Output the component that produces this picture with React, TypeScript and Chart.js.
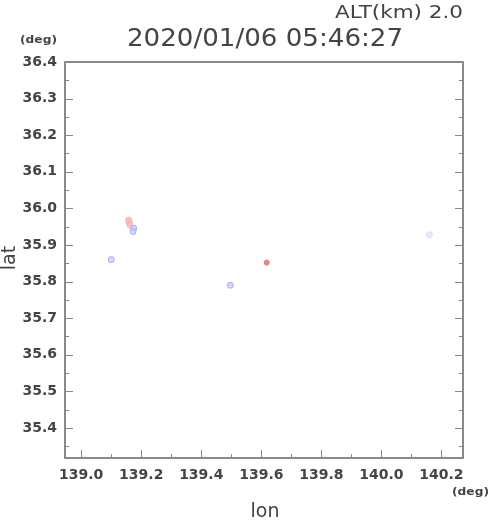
import React, { useEffect, useRef } from "react";
import { Chart, registerables } from "chart.js";

Chart.register(...registerables);

const titleText = "2020/01/06 05:46:27";
const altText = "ALT(km) 2.0";
const xTickValues = [139.0, 139.2, 139.4, 139.6, 139.8, 140.0, 140.2];
const yTickValues = [35.4, 35.5, 35.6, 35.7, 35.8, 35.9, 36.0, 36.1, 36.2, 36.3, 36.4];
const xMinorStep = 0.1;
const yMinorStep = 0.05;
const xRange = [138.946, 140.272];
const yRange = [35.318, 36.4];

const blueLon = [139.1, 139.175, 139.173, 139.497];
const blueLat = [35.86, 35.946, 35.937, 35.79];
const pinkLon = [139.158, 139.16, 139.162];
const pinkLat = [35.968, 35.962, 35.955];
const redLon = [139.618];
const redLat = [35.852];
const faintLon = [140.16];
const faintLat = [35.928];

const pts = (xs: number[], ys: number[]) => xs.map((x, i) => ({ x, y: ys[i] }));

const FONT = "'DejaVu Sans', sans-serif";
const TXT = "#444";

function fitText(ctx: any, text: string, left: number, y: number, width: number) {
  const w = ctx.measureText(text).width;
  ctx.save();
  ctx.translate(left, y);
  ctx.scale(width / w, 1);
  ctx.textAlign = "left";
  ctx.fillText(text, 0, 0);
  ctx.restore();
}

const framePlugin = {
  id: "frame",
  afterDraw(chart: any) {
    const { ctx, chartArea: a, scales } = chart;
    const xs = scales.x;
    const ys = scales.y;
    ctx.save();
    ctx.strokeStyle = "#666";
    ctx.lineWidth = 1.5;
    ctx.strokeRect(a.left, a.top, a.right - a.left, a.bottom - a.top);
    ctx.lineWidth = 1;
    ctx.strokeStyle = "#888";
    for (let v = Math.ceil(xRange[0] / xMinorStep) * xMinorStep; v <= xRange[1] + 1e-9; v += xMinorStep) {
      const p = Math.round(xs.getPixelForValue(v)) + 0.5;
      const major = xTickValues.some((t) => Math.abs(t - v) < 1e-6);
      const len = major ? 8 : 4;
      ctx.beginPath();
      ctx.moveTo(p, a.bottom);
      ctx.lineTo(p, a.bottom - len);
      ctx.stroke();
    }
    for (let v = Math.ceil(yRange[0] / yMinorStep) * yMinorStep; v <= yRange[1] + 1e-9; v += yMinorStep) {
      const p = Math.round(ys.getPixelForValue(v)) + 0.5;
      const major = yTickValues.some((t) => Math.abs(t - v) < 1e-6);
      const len = major ? 8 : 4;
      ctx.beginPath();
      ctx.moveTo(a.left, p);
      ctx.lineTo(a.left + len, p);
      ctx.moveTo(a.right, p);
      ctx.lineTo(a.right - len, p);
      ctx.stroke();
    }
    ctx.fillStyle = TXT;
    ctx.textBaseline = "middle";
    ctx.font = `17px ${FONT}`;
    fitText(ctx, altText, 335, 14, 128);
    ctx.font = `24px ${FONT}`;
    fitText(ctx, titleText, 127, 40, 276);
    ctx.font = `bold 11px ${FONT}`;
    fitText(ctx, "(deg)", 20, 40, 37);
    fitText(ctx, "(deg)", 452, 492, 37);
    ctx.font = `19px ${FONT}`;
    ctx.textAlign = "center";
    ctx.fillText("lon", 265, 512);
    ctx.save();
    ctx.translate(10, 258);
    ctx.rotate(-Math.PI / 2);
    ctx.fillText("lat", 0, 0);
    ctx.restore();
    ctx.restore();
  },
};

export default function App() {
  const ref = useRef<HTMLCanvasElement>(null);
  useEffect(() => {
    if (!ref.current) return;
    const chart = new Chart(ref.current, {
      type: "scatter",
      data: {
        datasets: [
          {
            data: pts(faintLon, faintLat),
            backgroundColor: "rgba(225,225,255,0.7)",
            borderColor: "rgba(205,205,250,0.7)",
            pointRadius: 3,
            borderWidth: 1,
          },
          {
            data: pts(blueLon, blueLat),
            backgroundColor: "rgba(205,205,255,0.8)",
            borderColor: "rgba(160,160,250,0.9)",
            pointRadius: 3,
            borderWidth: 1,
          },
          {
            data: pts(pinkLon, pinkLat),
            backgroundColor: "rgba(250,190,185,0.85)",
            borderColor: "rgba(245,175,170,0.9)",
            pointRadius: 3,
            borderWidth: 1,
          },
          {
            data: pts(redLon, redLat),
            backgroundColor: "rgba(240,120,120,0.9)",
            borderColor: "rgba(235,110,110,0.9)",
            pointRadius: 2.5,
            borderWidth: 1,
          },
        ],
      },
      options: {
        animation: false,
        responsive: false,
        maintainAspectRatio: false,
        layout: { padding: { left: 0, top: 62, right: 27, bottom: 0 } },
        plugins: { legend: { display: false }, tooltip: { enabled: false }, title: { display: false } },
        scales: {
          x: {
            type: "linear",
            min: xRange[0],
            max: xRange[1],
            border: { display: false },
            grid: { display: false },
            afterBuildTicks: (s: any) => {
              s.ticks = xTickValues.map((value) => ({ value }));
            },
            afterFit: (s: any) => {
              s.height = 63;
            },
            ticks: {
              autoSkip: false,
              maxRotation: 0,
              padding: 1,
              color: TXT,
              font: { family: FONT, size: 14, weight: "bold" },
              callback: (v: any) => Number(v).toFixed(1),
            },
          },
          y: {
            type: "linear",
            min: yRange[0],
            max: yRange[1],
            border: { display: false },
            grid: { display: false },
            afterBuildTicks: (s: any) => {
              s.ticks = yTickValues.map((value) => ({ value }));
            },
            afterFit: (s: any) => {
              s.width = 65;
            },
            ticks: {
              autoSkip: false,
              padding: 0,
              color: TXT,
              font: { family: FONT, size: 14, weight: "bold" },
              callback: (v: any) => Number(v).toFixed(1),
            },
          },
        },
      },
      plugins: [framePlugin],
    });
    return () => chart.destroy();
  }, []);
  return (
    <canvas
      ref={ref}
      width={490}
      height={521}
      style={{ position: "fixed", left: 0, top: 0, width: 490, height: 521, background: "#fff" }}
    />
  );
}
